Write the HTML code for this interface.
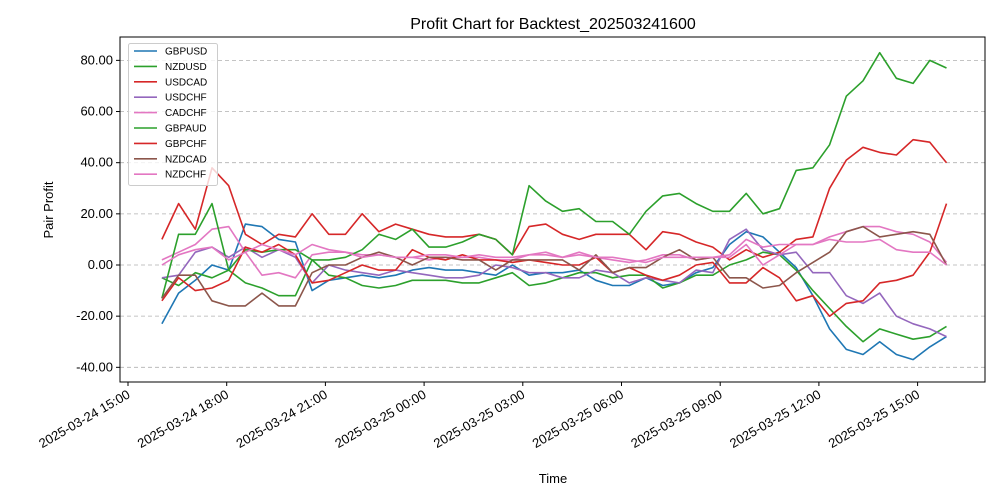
<!DOCTYPE html>
<html><head><meta charset="utf-8"><style>
html,body{margin:0;padding:0;background:#fff;}
svg{display:block;font-family:"Liberation Sans","DejaVu Sans",sans-serif;}
</style></head><body>
<svg id="chart" width="1000" height="500" viewBox="0 0 1000 500">
<rect x="0" y="0" width="1000" height="500" fill="#fff"/>
<text x="553" y="29" font-size="16" text-anchor="middle" fill="#000">Profit Chart for Backtest_202503241600</text>
<g id="grid"></g>
<g id="series"></g>
<rect x="120" y="37" width="865" height="345" fill="none" stroke="#000" stroke-width="1"/>
<g id="yaxis"></g>
<g id="xaxis"></g>
<text x="553" y="483" font-size="13" text-anchor="middle">Time</text>
<text x="53" y="210" font-size="13" text-anchor="middle" transform="rotate(-90 53 210)">Pair Profit</text>
<g id="legend"></g>
</svg>
<script>
const seriesNames = ["GBPUSD","NZDUSD","USDCAD","USDCHF","CADCHF","GBPAUD","GBPCHF","NZDCAD","NZDCHF"];
const seriesColors = ["#1f77b4","#2ca02c","#d62728","#9467bd","#e377c2","#2ca02c","#d62728","#8c564b","#e377c2"];
const yTicks = [-40,-20,0,20,40,60,80];
const xTickHours = [0,3,6,9,12,15,18,21,24];
const xTickLabels = ["2025-03-24 15:00","2025-03-24 18:00","2025-03-24 21:00","2025-03-25 00:00","2025-03-25 03:00","2025-03-25 06:00","2025-03-25 09:00","2025-03-25 12:00","2025-03-25 15:00"];
const startHour = 1.03;
const stepHours = 0.5074;
const gbpusd = [-23,-11,-6,0,-2,16,15,10,9,-10, -6,-5,-4,-5,-4,-2,-1,-2,-2,-3, -4,0,-4,-3,-3,-2,-6,-8,-8,-5, -8,-7,-3,-1,8,13,11,5,-1,-12, -25,-33,-35,-30,-35,-37,-32,-28];
const nzdusd = [-5,-8,-3,-5,-2,-7,-9,-12,-12,2, -4,-5,-8,-9,-8,-6,-6,-6,-7,-7, -5,-3,-8,-7,-5,-3,-3,-5,-4,-4, -9,-7,-4,-4,0,2,5,4,-2,-10, -17,-24,-30,-25,-27,-29,-28,-24];
const usdcad = [10,24,14,38,31,12,8,12,11,20, 12,12,20,13,16,14,12,11,11,12, 10,4,15,16,12,10,12,12,12,6, 13,12,9,7,2,6,3,5,10,11, 30,41,46,44,43,49,48,40];
const usdchf = [-5,-4,5,7,3,7,3,6,3,-7, 0,-2,-3,-4,-2,-3,-4,-5,-5,-4, 0,-1,-3,-3,-5,-5,-2,-3,-7,-5, -6,-7,-2,-3,10,14,6,4,5,-3, -3,-12,-15,-11,-20,-23,-25,-28];
const cadchf = [2,5,8,14,15,5,-4,-3,-5,4, 5,5,4,4,3,3,2,3,3,3, 2,2,4,4,3,4,3,2,1,2, 4,4,2,3,4,10,7,8,8,8, 11,13,15,15,13,12,9,1];
const gbpaud = [-13,12,12,24,-2,6,5,6,6,2, 2,3,6,12,10,14,7,7,9,12, 10,4,31,25,21,22,17,17,12,21, 27,28,24,21,21,28,20,22,37,38, 47,66,72,83,73,71,80,77];
const gbpchf = [-14,-5,-10,-9,-6,7,5,8,4,-7, -6,-3,0,-2,-2,6,3,2,4,2, 2,1,2,1,0,0,3,-3,-1,-4, -6,-4,0,1,-7,-7,-1,-5,-14,-12, -20,-15,-14,-7,-6,-4,5,24];
const nzdcad = [-13,-4,-4,-14,-16,-16,-11,-16,-16,-3, 0,0,3,5,3,0,3,3,2,2, -2,2,2,2,2,-2,4,-3,-1,-1, 3,6,2,3,-5,-5,-9,-8,-3,1, 5,13,15,11,12,13,12,0];
const nzdchf = [0,4,6,7,2,5,8,6,4,8, 6,5,3,4,3,3,4,4,3,4, 3,3,4,5,3,5,3,3,2,1, 3,3,3,3,3,8,0,4,8,8, 10,9,9,10,6,5,5,0];
const allSeries = [gbpusd,nzdusd,usdcad,usdchf,cadchf,gbpaud,gbpchf,nzdcad,nzdchf];

const NS = "http://www.w3.org/2000/svg";
function xScale(h){ return 128 + h*32.9; }
function yScale(v){ return 265 - v*2.558; }
function mk(tag, attrs){ const e=document.createElementNS(NS,tag); for(const k in attrs) e.setAttribute(k,attrs[k]); return e; }

const grid=document.getElementById('grid'), yaxis=document.getElementById('yaxis'), xaxis=document.getElementById('xaxis');
yTicks.forEach(v=>{
  const y=yScale(v);
  const gl=mk('line',{x1:120,x2:985,y1:y,y2:y,stroke:'#b0b0b0','stroke-width':0.8,'stroke-dasharray':'4,3'});
  
  
  grid.appendChild(gl);
  const tk=mk('line',{x1:116,x2:120,y1:y,y2:y,stroke:'#000'});
  
  
  yaxis.appendChild(tk);
  const t=mk('text',{x:113,y:y+4,'font-size':13,'text-anchor':'end'});
  t.textContent=v.toFixed(2);
  
  
  yaxis.appendChild(t);
});
xTickHours.forEach((h,i)=>{
  const x=xScale(h);
  const tk=mk('line',{x1:x,x2:x,y1:382,y2:386,stroke:'#000'});
  
  
  xaxis.appendChild(tk);
  const t=mk('text',{x:x+3,y:397,'font-size':13,'text-anchor':'end',transform:`rotate(-30 ${x+3} 397)`});
  t.textContent=xTickLabels[i];
  
  
  xaxis.appendChild(t);
});
const sg=document.getElementById('series');
allSeries.forEach((data,si)=>{
  const pts=data.map((v,i)=>xScale(startHour+i*stepHours).toFixed(1)+','+yScale(v).toFixed(1)).join(' ');
  const pl=mk('polyline',{points:pts,fill:'none',stroke:seriesColors[si],'stroke-width':1.6,'stroke-linejoin':'round'});
  
  
  sg.appendChild(pl);
});
const lg=document.getElementById('legend');
const box=mk('rect',{x:128.5,y:43.5,width:89,height:142,rx:2,fill:'#fff','fill-opacity':0.8,stroke:'#ccc'});


lg.appendChild(box);
seriesNames.forEach((n,i)=>{
  const y=51+i*15.4;
  const g=mk('g',{});
  
  
  g.appendChild(mk('line',{x1:134,x2:157,y1:y,y2:y,stroke:seriesColors[i],'stroke-width':1.6}));
  const t=mk('text',{x:165,y:y+3.5,'font-size':10});
  t.textContent=n;
  g.appendChild(t);
  lg.appendChild(g);
});
</script>
</body></html>
